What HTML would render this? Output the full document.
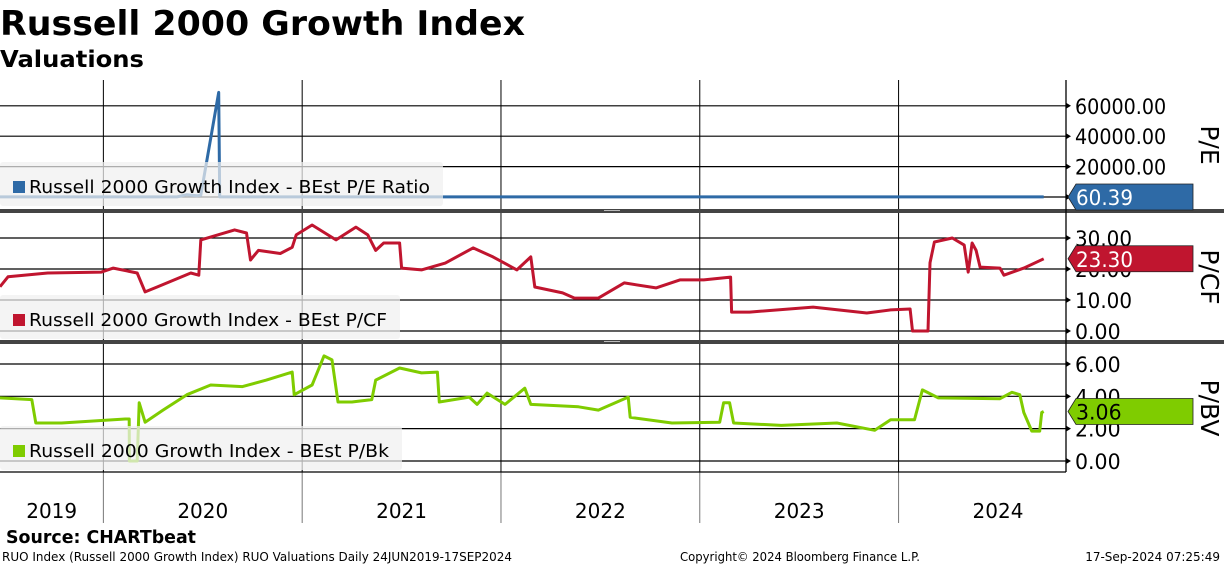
<!DOCTYPE html>
<html><head><meta charset="utf-8"><style>
body{margin:0;background:#fff;}
svg{display:block;font-family:"DejaVu Sans","Liberation Sans",sans-serif;}
</style></head><body>
<svg id="chart" width="1224" height="566" viewBox="0 0 1224 566">
<text x="0" y="35" font-size="34" font-weight="bold" textLength="525" lengthAdjust="spacingAndGlyphs">Russell 2000 Growth Index</text>
<text x="0" y="67" font-size="23" font-weight="bold" textLength="144" lengthAdjust="spacingAndGlyphs">Valuations</text>
<g id="grid"></g>
<g id="lines"></g>
<g id="legends"></g>
<g id="axes"></g>
<text x="6" y="543" font-size="18" font-weight="bold" textLength="190" lengthAdjust="spacingAndGlyphs">Source: CHARTbeat</text>
<text x="2" y="561" font-size="12" textLength="510" lengthAdjust="spacingAndGlyphs">RUO Index (Russell 2000 Growth Index) RUO Valuations  Daily 24JUN2019-17SEP2024</text>
<text x="680" y="561" font-size="12" textLength="240" lengthAdjust="spacingAndGlyphs">Copyright© 2024 Bloomberg Finance L.P.</text>
<text x="1220" y="561" font-size="12" text-anchor="end">17-Sep-2024 07:25:49</text>
</svg>
<script>
const peDates=[2019.48,2020.37,2020.42,2020.47,2020.49,2020.58,2020.585,2020.70,2021.2,2024.73];
const peValues=[60,60,1500,800,1200,68800,60,60,60,60.39];
const pcfDates=[2019.48,2019.52,2019.72,2019.99,2020.05,2020.17,2020.21,2020.27,2020.44,2020.48,2020.49,2020.66,2020.72,2020.74,2020.78,2020.89,2020.95,2020.97,2021.05,2021.17,2021.27,2021.33,2021.37,2021.41,2021.49,2021.50,2021.60,2021.72,2021.86,2021.96,2022.08,2022.15,2022.17,2022.31,2022.37,2022.49,2022.62,2022.78,2022.90,2023.02,2023.155,2023.16,2023.25,2023.57,2023.84,2023.96,2024.058,2024.07,2024.148,2024.158,2024.18,2024.27,2024.33,2024.35,2024.37,2024.39,2024.41,2024.51,2024.53,2024.63,2024.73];
const pcfValues=[14.3,17.5,18.7,19,20.3,18.7,12.6,14.2,18.7,18,29.4,32.6,31.6,22.9,26,25,27,31,34.2,29.4,33.5,31,26,28.4,28.4,20.3,19.7,21.9,26.8,23.9,19.7,23.9,14.2,12.3,10.6,10.6,15.5,13.9,16.5,16.5,17.4,6.1,6.1,7.7,5.8,6.8,7.1,0,0,22,28.7,30,27.7,19,28.4,26,20.6,20.3,18,20.3,23.3];
const pbvDates=[2019.48,2019.64,2019.66,2019.79,2020.11,2020.13,2020.131,2020.17,2020.18,2020.21,2020.30,2020.42,2020.54,2020.70,2020.82,2020.95,2020.96,2021.05,2021.11,2021.15,2021.18,2021.25,2021.35,2021.37,2021.49,2021.60,2021.68,2021.69,2021.84,2021.88,2021.93,2022.02,2022.12,2022.15,2022.39,2022.49,2022.64,2022.65,2022.86,2023.10,2023.12,2023.15,2023.17,2023.41,2023.69,2023.88,2023.96,2024.08,2024.12,2024.20,2024.51,2024.57,2024.61,2024.63,2024.67,2024.71,2024.72,2024.73];
const pbvValues=[3.9,3.8,2.35,2.35,2.6,2.6,0,0,3.6,2.4,3.15,4.1,4.7,4.6,5.0,5.5,4.1,4.7,6.5,6.25,3.65,3.65,3.8,5.0,5.75,5.45,5.5,3.65,3.95,3.5,4.2,3.5,4.5,3.5,3.35,3.15,3.95,2.7,2.35,2.4,3.6,3.6,2.35,2.2,2.35,1.9,2.55,2.55,4.4,3.9,3.85,4.25,4.1,3.0,1.85,1.85,3.0,3.06];
const yearLabels=["2019","2020","2021","2022","2023","2024"];
const yearStarts=[2020,2021,2022,2023,2024];
const peTicks=[0,20000,40000,60000];
const pcfTicks=[0,10,20,30];
const pbvTicks=[0,2,4,6];

const NS="http://www.w3.org/2000/svg";
const X0=2019.48, PXY=198.8, AX=1066;
const xS=d=>(d-X0)*PXY;
const peY=v=>197-v*(30.4/20000);
const pcfY=v=>331-v*3.1;
const pbvY=v=>461-v*16.17;
function mk(tag,attrs,parent){const e=document.createElementNS(NS,tag);for(const k in attrs)e.setAttribute(k,attrs[k]);parent.appendChild(e);return e;}
const grid=document.getElementById('grid'),lines=document.getElementById('lines'),legends=document.getElementById('legends'),axes=document.getElementById('axes');

[[peTicks,peY,'pe'],[pcfTicks,pcfY,'pcf'],[pbvTicks,pbvY,'pbv']].forEach(([ticks,sc,nm])=>{
  ticks.forEach(t=>{
    const l=mk('line',{x1:0,x2:AX,y1:sc(t),y2:sc(t),stroke:'#000','stroke-width':1.2},grid);
    
    
    const tk=mk('path',{d:`M${AX} ${sc(t)-3}L${AX+5} ${sc(t)}L${AX} ${sc(t)+3}Z`,fill:'#000'},axes);
    
    
    const s=t.toFixed(2);
    const tx=mk('text',{x:AX+9,y:sc(t)+8,'font-size':21,textLength:s.length*11.4,lengthAdjust:'spacingAndGlyphs'},axes);
    tx.textContent=s;
    
    
  });
});
yearStarts.forEach(y=>{
  const l=mk('line',{x1:xS(y),x2:xS(y),y1:80,y2:472,stroke:'#000','stroke-width':1},grid);
  
  
  const l2=mk('line',{x1:xS(y),x2:xS(y),y1:472,y2:523,stroke:'#777','stroke-width':1},grid);
  
  
});
yearLabels.forEach((lab,i)=>{
  const s=Math.max(X0,+lab), e=Math.min(+lab+1,2025);
  const t=mk('text',{x:(xS(s)+xS(e))/2,y:518,'font-size':20,'text-anchor':'middle'},axes);
  t.textContent=lab;
  
  
});
function series(dates,vals,sc,color,nm){
  const d=dates.map((x,i)=>(i?'L':'M')+xS(x).toFixed(1)+' '+sc(vals[i]).toFixed(1)).join('');
  const p=mk('path',{d:d,fill:'none',stroke:color,'stroke-width':3,'stroke-linejoin':'round'},lines);
  
  
}
series(peDates,peValues,peY,'#2e6aa6','pe');
series(pcfDates,pcfValues,pcfY,'#c0152f','pcf');
series(pbvDates,pbvValues,pbvY,'#7fcc00','pbv');
function legend(y,w,color,label,nm){
  const g=mk('g',{},legends);
  
  
  mk('rect',{x:0,y:y,width:w,height:44,fill:'rgba(240,240,240,0.72)',rx:3},g);
  mk('rect',{x:13,y:y+19,width:12,height:12,fill:color},g);
  const t=mk('text',{x:29,y:y+31,'font-size':18,textLength:w-42,lengthAdjust:'spacingAndGlyphs'},g);
  t.textContent=label;
}
legend(162,443,'#2e6aa6','Russell 2000 Growth Index - BEst P/E Ratio','pe');
legend(295,400,'#c0152f','Russell 2000 Growth Index - BEst P/CF','pcf');
legend(426,402,'#7fcc00','Russell 2000 Growth Index - BEst P/Bk','pbv');
[[209,'panel-separator-1'],[340,'panel-separator-2']].forEach(([y,nm])=>{
  const r=mk('rect',{x:0,y:y,width:1224,height:4,fill:'#444'},axes);
  
  
  mk('rect',{x:604,y:y+1,width:16,height:1,fill:'#bbb'},axes);
});
const ax=mk('line',{x1:AX,x2:AX,y1:80,y2:472,stroke:'#000','stroke-width':1.3},axes);


const bx=mk('line',{x1:0,x2:AX,y1:472,y2:472,stroke:'#000','stroke-width':1.3},axes);


function tag(v,y,color,txtColor,nm){
  const g=mk('g',{},axes);
  
  
  mk('path',{d:`M${AX+2} ${y}L${AX+10} ${y-13}L1193 ${y-13}L1193 ${y+13}L${AX+10} ${y+13}Z`,fill:color,stroke:'#222','stroke-width':0.8},g);
  const s=v.toFixed(2);
  const t=mk('text',{x:AX+10,y:y+8,'font-size':21,fill:txtColor,textLength:s.length*11.4,lengthAdjust:'spacingAndGlyphs'},g);
  t.textContent=s;
}
tag(peValues[peValues.length-1],197,'#2e6aa6','#fff','pe');
tag(pcfValues[pcfValues.length-1],pcfY(pcfValues[pcfValues.length-1]),'#c0152f','#fff','pcf');
tag(pbvValues[pbvValues.length-1],pbvY(pbvValues[pbvValues.length-1]),'#7fcc00','#000','pbv');
[['P/E',145,'pe'],['P/CF',277,'pcf'],['P/BV',408,'pbv']].forEach(([s,cy,nm])=>{
  const t=mk('text',{x:0,y:0,'font-size':25,'text-anchor':'middle',transform:`translate(1201 ${cy}) rotate(90)`},axes);
  t.textContent=s;
  
  
});
</script>
</body></html>
